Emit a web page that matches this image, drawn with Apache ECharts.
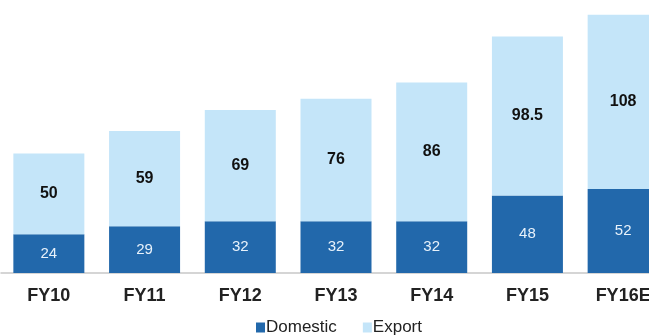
<!DOCTYPE html>
<html>
<head>
<meta charset="utf-8">
<script src="https://cdn.jsdelivr.net/npm/echarts@6/dist/echarts.min.js"></script>
<style>html,body{margin:0;padding:0;background:#fff;overflow:hidden;width:649px;height:335px;}#c{width:671px;height:335px;}</style>
</head>
<body>
<div id="c"></div>
<script>
const categories = ['FY10','FY11','FY12','FY13','FY14','FY15','FY16E'];
const domestic = [24, 29, 32, 32, 32, 48, 52];
const exportVals = [50, 59, 69, 76, 86, 98.5, 108];
const legendNames = ['Domestic', 'Export'];

const chart = echarts.init(document.getElementById('c'), null, {renderer: 'canvas'});
chart.setOption({
  animation: false,
  backgroundColor: '#ffffff',
  textStyle: {fontFamily: 'Liberation Sans, Arial, sans-serif'},
  grid: {left: 1, right: 0, top: 10, height: 263, containLabel: false},
  legend: {
    data: legendNames,
    top: 314,
    left: 251,
    itemWidth: 9,
    itemHeight: 10,
    itemGap: 26,
    icon: 'rect',
    textStyle: {fontSize: 17, color: '#222', padding: [0, 0, 0, -4]}
  },
  xAxis: {
    type: 'category',
    data: categories,
    axisLine: {lineStyle: {color: '#c8c8c8', width: 1.5}},
    axisTick: {show: false},
    axisLabel: {fontSize: 18, fontWeight: 'bold', color: '#222', margin: 14}
  },
  yAxis: {
    type: 'value',
    min: 0,
    max: 163,
    show: false,
    splitLine: {show: false}
  },
  series: [
    {
      name: legendNames[0],
      type: 'bar',
      stack: 'total',
      data: domestic,
      barWidth: 71,
      itemStyle: {color: '#2268ab'},
      label: {show: true, position: 'inside', color: '#e8f2fb', fontSize: 15}
    },
    {
      name: legendNames[1],
      type: 'bar',
      stack: 'total',
      data: exportVals,
      barWidth: 71,
      itemStyle: {color: '#c4e5f9'},
      label: {show: true, position: 'inside', color: '#111', fontSize: 16, fontWeight: 'bold'}
    }
  ]
});
</script>
</body>
</html>
